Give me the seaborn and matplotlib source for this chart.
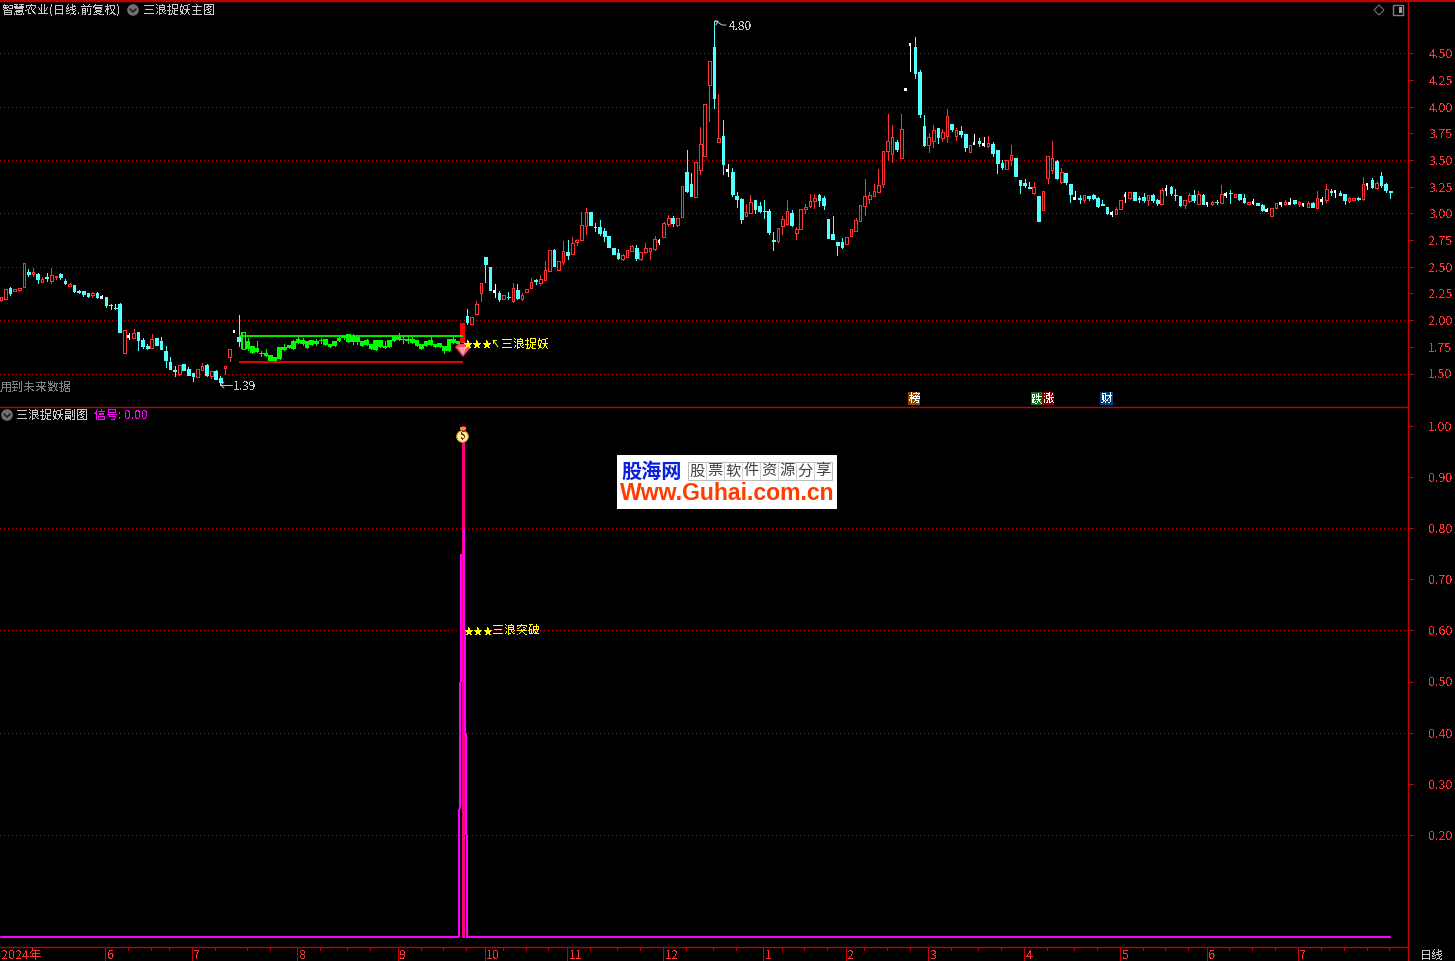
import matplotlib
matplotlib.use('Agg')
import matplotlib.pyplot as plt
from matplotlib.patches import Circle, Polygon, Rectangle
import pandas as pd
import seaborn as sns

W, H = 1455, 961

# daily candles as (open, close, high, low)
candles_fall = [
    (2.19, 2.22, 2.22, 2.18), (2.20, 2.29, 2.29, 2.20), (2.30, 2.255, 2.315, 2.24), (2.27, 2.29, 2.29, 2.27),
    (2.285, 2.30, 2.30, 2.275), (2.31, 2.54, 2.54, 2.31), (2.45, 2.43, 2.475, 2.41), (2.43, 2.45, 2.49, 2.41),
    (2.43, 2.39, 2.44, 2.35), (2.355, 2.39, 2.40, 2.355), (2.40, 2.395, 2.445, 2.365), (2.365, 2.425, 2.485, 2.35),
    (2.40, 2.415, 2.415, 2.385), (2.43, 2.40, 2.44, 2.385), (2.37, 2.345, 2.39, 2.335), (2.32, 2.335, 2.345, 2.32),
    (2.325, 2.27, 2.33, 2.265), (2.27, 2.26, 2.285, 2.25), (2.27, 2.245, 2.275, 2.225), (2.25, 2.225, 2.255, 2.22),
    (2.235, 2.25, 2.26, 2.22), (2.25, 2.215, 2.265, 2.205), (2.215, 2.215, 2.235, 2.21), (2.22, 2.145, 2.22, 2.125),
    (2.145, 2.14, 2.155, 2.105), (2.115, 2.11, 2.15, 2.105), (2.155, 1.89, 2.16, 1.89), (1.695, 1.91, 1.91, 1.695),
    (1.85, 1.85, 1.88, 1.82), (1.835, 1.875, 1.92, 1.835), (1.89, 1.815, 1.89, 1.72), (1.815, 1.755, 1.83, 1.74),
    (1.76, 1.74, 1.775, 1.725), (1.735, 1.825, 1.87, 1.735), (1.835, 1.765, 1.835, 1.765), (1.805, 1.73, 1.84, 1.73),
    (1.71, 1.625, 1.755, 1.56), (1.605, 1.545, 1.655, 1.54), (1.53, 1.52, 1.57, 1.48), (1.495, 1.575, 1.575, 1.485),
    (1.585, 1.535, 1.59, 1.53), (1.54, 1.49, 1.565, 1.49), (1.50, 1.48, 1.50, 1.43), (1.47, 1.54, 1.54, 1.47),
    (1.535, 1.57, 1.595, 1.535), (1.58, 1.485, 1.59, 1.475), (1.475, 1.52, 1.52, 1.455), (1.52, 1.45, 1.53, 1.45),
    (1.455, 1.425, 1.475, 1.39), (1.555, 1.57, 1.57, 1.50), (1.65, 1.725, 1.725, 1.615), (1.895, 1.895, 1.895, 1.895),
    (1.84, 1.805, 2.05, 1.76),
]

# the sideways stretch that the main indicator paints green
candles_box = [
    (1.73, 1.885, 1.885, 1.73), (1.80, 1.725, 1.83, 1.72), (1.76, 1.69, 1.76, 1.69), (1.735, 1.705, 1.80, 1.70),
    (1.695, 1.685, 1.71, 1.665), (1.69, 1.665, 1.73, 1.665), (1.67, 1.615, 1.67, 1.615), (1.65, 1.61, 1.65, 1.61),
    (1.745, 1.64, 1.745, 1.64), (1.75, 1.72, 1.775, 1.72), (1.77, 1.735, 1.77, 1.735), (1.805, 1.73, 1.81, 1.73),
    (1.825, 1.79, 1.845, 1.79), (1.81, 1.78, 1.83, 1.77), (1.805, 1.74, 1.805, 1.74), (1.81, 1.77, 1.81, 1.77),
    (1.80, 1.78, 1.82, 1.765), (1.815, 1.80, 1.83, 1.79), (1.82, 1.765, 1.82, 1.765), (1.78, 1.75, 1.78, 1.75),
    (1.805, 1.76, 1.805, 1.76), (1.83, 1.805, 1.84, 1.80), (1.85, 1.83, 1.85, 1.82), (1.87, 1.795, 1.87, 1.795),
    (1.855, 1.795, 1.87, 1.775), (1.845, 1.795, 1.845, 1.775), (1.80, 1.76, 1.80, 1.76), (1.81, 1.77, 1.82, 1.77),
    (1.775, 1.73, 1.775, 1.73), (1.815, 1.72, 1.815, 1.72), (1.81, 1.75, 1.81, 1.75), (1.76, 1.74, 1.805, 1.74),
    (1.815, 1.75, 1.815, 1.75), (1.85, 1.80, 1.85, 1.80), (1.845, 1.81, 1.875, 1.81), (1.825, 1.815, 1.85, 1.79),
    (1.82, 1.80, 1.84, 1.79), (1.825, 1.785, 1.845, 1.785), (1.815, 1.76, 1.815, 1.76), (1.78, 1.73, 1.78, 1.73),
    (1.80, 1.76, 1.80, 1.76), (1.815, 1.77, 1.85, 1.77), (1.78, 1.75, 1.78, 1.75), (1.79, 1.75, 1.79, 1.75),
    (1.76, 1.71, 1.76, 1.695), (1.825, 1.715, 1.825, 1.715), (1.82, 1.785, 1.84, 1.785), (1.80, 1.775, 1.80, 1.775),
]

candles_rise = [
    (1.795, 1.975, 1.975, 1.795), (2.04, 1.985, 2.105, 1.965), (1.96, 2.03, 2.03, 1.96), (2.055, 2.155, 2.18, 2.055),
    (2.25, 2.35, 2.35, 2.175), (2.59, 2.525, 2.59, 2.355), (2.50, 2.28, 2.50, 2.28), (2.27, 2.27, 2.335, 2.22),
    (2.25, 2.20, 2.275, 2.175), (2.195, 2.24, 2.24, 2.195), (2.22, 2.215, 2.26, 2.20), (2.18, 2.30, 2.35, 2.17),
    (2.285, 2.21, 2.335, 2.20), (2.20, 2.235, 2.25, 2.185), (2.26, 2.29, 2.29, 2.26), (2.30, 2.36, 2.395, 2.30),
    (2.375, 2.37, 2.39, 2.34), (2.345, 2.39, 2.425, 2.325), (2.38, 2.47, 2.55, 2.38), (2.465, 2.655, 2.655, 2.46),
    (2.655, 2.51, 2.665, 2.505), (2.47, 2.55, 2.55, 2.47), (2.545, 2.65, 2.74, 2.53), (2.635, 2.61, 2.75, 2.57),
    (2.62, 2.725, 2.775, 2.62), (2.735, 2.75, 2.76, 2.70), (2.75, 2.895, 3.01, 2.75), (2.885, 3.01, 3.055, 2.805),
    (3.01, 2.89, 3.01, 2.89), (2.875, 2.87, 2.91, 2.835), (2.87, 2.815, 2.94, 2.795), (2.835, 2.785, 2.86, 2.74),
    (2.785, 2.69, 2.785, 2.69), (2.675, 2.62, 2.675, 2.62), (2.625, 2.58, 2.67, 2.57), (2.57, 2.615, 2.62, 2.565),
    (2.595, 2.655, 2.655, 2.595), (2.65, 2.695, 2.70, 2.65), (2.68, 2.58, 2.70, 2.565), (2.57, 2.635, 2.635, 2.565),
    (2.635, 2.675, 2.72, 2.63), (2.65, 2.675, 2.68, 2.57), (2.665, 2.76, 2.79, 2.66), (2.745, 2.745, 2.765, 2.71),
    (2.78, 2.915, 2.92, 2.775), (2.90, 2.955, 2.985, 2.88), (2.955, 2.91, 2.975, 2.885), (2.89, 2.955, 2.96, 2.885),
    (2.97, 3.26, 3.26, 2.97), (3.385, 3.21, 3.595, 3.20), (3.275, 3.165, 3.38, 3.165), (3.15, 3.48, 3.48, 3.15),
    (3.41, 3.655, 3.81, 3.37), (3.54, 4.03, 4.03, 3.54), (4.20, 4.425, 4.43, 3.865), (4.56, 4.08, 4.80, 3.99),
]

candles_chop = [
    (3.67, 3.71, 4.12, 3.67), (3.725, 3.465, 3.875, 3.37), (3.405, 3.405, 3.46, 3.35), (3.385, 3.18, 3.425, 3.16),
    (3.16, 3.135, 3.20, 3.06), (3.14, 2.945, 3.145, 2.91), (2.98, 3.01, 3.09, 2.98), (3.00, 3.105, 3.17, 3.00),
    (3.125, 3.04, 3.13, 3.00), (3.07, 3.02, 3.105, 3.015), (3.025, 3.02, 3.125, 2.96), (3.02, 2.83, 3.04, 2.805),
    (2.755, 2.745, 2.825, 2.655), (2.74, 2.86, 2.86, 2.73), (2.88, 2.945, 2.975, 2.805), (2.90, 3.02, 3.13, 2.89),
    (3.00, 2.89, 3.03, 2.88), (2.82, 2.85, 2.87, 2.76), (2.855, 3.045, 3.045, 2.855), (3.045, 3.06, 3.085, 3.005),
    (3.07, 3.12, 3.18, 3.065), (3.12, 3.145, 3.18, 3.05), (3.17, 3.125, 3.18, 3.07), (3.145, 3.08, 3.165, 3.04),
    (2.945, 2.77, 2.945, 2.77), (2.805, 2.76, 2.975, 2.76), (2.735, 2.70, 2.735, 2.61), (2.73, 2.685, 2.77, 2.68),
    (2.715, 2.775, 2.775, 2.715), (2.79, 2.85, 2.85, 2.79), (2.84, 2.935, 2.96, 2.84), (2.93, 3.075, 3.075, 2.93),
    (3.07, 3.16, 3.32, 2.985), (3.135, 3.17, 3.205, 3.10), (3.165, 3.215, 3.275, 3.165), (3.20, 3.265, 3.42, 3.20),
    (3.28, 3.59, 3.59, 3.25), (3.59, 3.675, 3.93, 3.50), (3.56, 3.72, 3.825, 3.485), (3.67, 3.60, 3.685, 3.59),
    (3.52, 3.79, 3.93, 3.52), (4.17, 4.17, 4.17, 4.17), (4.59, 4.59, 4.59, 4.34), (4.56, 4.315, 4.655, 4.27),
]

candles_slide = [
    (4.325, 3.93, 4.345, 3.90), (3.82, 3.645, 3.92, 3.63), (3.64, 3.72, 3.75, 3.575), (3.68, 3.78, 3.83, 3.62),
    (3.80, 3.715, 3.80, 3.66), (3.71, 3.76, 3.79, 3.68), (3.73, 3.91, 3.98, 3.67), (3.84, 3.79, 3.84, 3.77),
    (3.725, 3.78, 3.805, 3.69), (3.77, 3.745, 3.82, 3.72), (3.745, 3.625, 3.745, 3.59), (3.575, 3.64, 3.64, 3.575),
    (3.66, 3.66, 3.745, 3.65), (3.675, 3.66, 3.705, 3.635), (3.655, 3.655, 3.715, 3.635), (3.635, 3.665, 3.725, 3.625),
    (3.65, 3.565, 3.67, 3.54), (3.595, 3.47, 3.595, 3.38), (3.47, 3.435, 3.50, 3.415), (3.42, 3.505, 3.505, 3.42),
    (3.505, 3.545, 3.64, 3.45), (3.52, 3.35, 3.52, 3.35), (3.31, 3.265, 3.31, 3.19), (3.285, 3.265, 3.32, 3.245),
    (3.245, 3.24, 3.295, 3.235), (3.19, 3.245, 3.295, 3.18), (3.16, 2.93, 3.16, 2.93), (3.035, 3.215, 3.215, 3.035),
    (3.335, 3.54, 3.54, 3.285), (3.41, 3.52, 3.68, 3.38), (3.49, 3.33, 3.50, 3.32), (3.295, 3.385, 3.425, 3.29),
    (3.38, 3.295, 3.38, 3.275), (3.275, 3.18, 3.275, 3.105), (3.145, 3.145, 3.21, 3.135), (3.145, 3.135, 3.17, 3.095),
    (3.125, 3.17, 3.17, 3.105), (3.16, 3.145, 3.165, 3.125), (3.17, 3.145, 3.18, 3.135), (3.145, 3.07, 3.15, 3.06),
    (3.085, 3.08, 3.125, 3.08), (3.06, 3.005, 3.065, 2.995), (3.005, 3.005, 3.02, 2.975), (2.995, 3.04, 3.06, 2.995),
    (3.04, 3.125, 3.125, 3.04), (3.17, 3.17, 3.20, 3.105), (3.145, 3.20, 3.205, 3.14), (3.20, 3.125, 3.20, 3.125),
    (3.145, 3.135, 3.16, 3.105),
]

candles_flat = [
    (3.155, 3.125, 3.19, 3.11), (3.125, 3.17, 3.17, 3.08), (3.17, 3.125, 3.185, 3.11), (3.125, 3.095, 3.135, 3.08),
    (3.09, 3.22, 3.235, 3.09), (3.23, 3.23, 3.27, 3.175), (3.25, 3.195, 3.26, 3.175), (3.175, 3.17, 3.23, 3.13),
    (3.16, 3.08, 3.16, 3.07), (3.08, 3.125, 3.13, 3.055), (3.115, 3.175, 3.195, 3.11), (3.175, 3.125, 3.22, 3.11),
    (3.09, 3.185, 3.21, 3.09), (3.175, 3.09, 3.18, 3.085), (3.10, 3.10, 3.11, 3.07), (3.09, 3.11, 3.115, 3.08),
    (3.11, 3.105, 3.125, 3.09), (3.10, 3.185, 3.27, 3.10), (3.185, 3.185, 3.20, 3.155), (3.195, 3.19, 3.22, 3.10),
    (3.155, 3.185, 3.185, 3.155), (3.18, 3.135, 3.185, 3.13), (3.145, 3.105, 3.185, 3.10), (3.09, 3.11, 3.11, 3.08),
    (3.11, 3.11, 3.135, 3.09), (3.10, 3.08, 3.10, 3.075), (3.08, 3.03, 3.09, 3.02), (3.03, 3.03, 3.05, 3.02),
    (2.975, 3.05, 3.05, 2.975), (3.05, 3.10, 3.10, 3.05), (3.10, 3.10, 3.11, 3.07), (3.09, 3.11, 3.125, 3.08),
    (3.10, 3.10, 3.145, 3.095), (3.125, 3.10, 3.13, 3.09), (3.09, 3.11, 3.12, 3.07), (3.09, 3.09, 3.10, 3.07),
    (3.06, 3.10, 3.115, 3.06), (3.10, 3.06, 3.11, 3.06), (3.05, 3.145, 3.21, 3.05), (3.125, 3.125, 3.155, 3.09),
    (3.125, 3.23, 3.28, 3.11), (3.21, 3.205, 3.23, 3.175), (3.21, 3.21, 3.22, 3.155), (3.195, 3.175, 3.21, 3.175),
    (3.185, 3.125, 3.185, 3.09), (3.115, 3.145, 3.155, 3.105), (3.13, 3.145, 3.145, 3.13), (3.145, 3.135, 3.155, 3.125),
    (3.135, 3.28, 3.345, 3.125), (3.28, 3.28, 3.29, 3.23), (3.315, 3.25, 3.335, 3.24), (3.24, 3.29, 3.30, 3.23),
    (3.355, 3.27, 3.385, 3.25), (3.28, 3.22, 3.29, 3.20), (3.21, 3.20, 3.21, 3.145),
]

box_top = 1.85
box_bottom = 1.605

# signal steps around the breakout day: (day offset, from, to)
signal_left = [(-0.79, 0.0, 0.25), (-0.57, 0.25, 0.50), (-0.35, 0.50, 0.75)]
signal_right = [(0.31, 0.60, 0.80), (0.52, 0.40, 0.60), (0.74, 0.20, 0.40), (0.96, 0.0, 0.20)]
signal_peak = 1.0

price_ticks = [1.50, 1.75, 2.00, 2.25, 2.50, 2.75, 3.00, 3.25, 3.50, 3.75, 4.00, 4.25, 4.50]
price_grid = [1.5, 2.0, 2.5, 3.0, 3.5, 4.0, 4.5]
signal_ticks = [0.20, 0.30, 0.40, 0.50, 0.60, 0.70, 0.80, 0.90, 1.00]
signal_grid = [0.2, 0.4, 0.6, 0.8]

month_days = [0, 23, 42, 65, 87, 106, 124, 145, 167, 185, 203, 224, 245, 264, 284]
month_labels = ['2024年', '6', '7', '8', '9', '10', '11', '12', '1', '2', '3', '4', '5', '6', '7']
week_days = [28, 33, 37, 47, 54, 59, 70, 76, 81, 92, 97, 102, 110, 115, 120, 129, 135, 140, 150, 156, 161,
             171, 176, 181, 189, 194, 199, 208, 214, 219, 229, 235, 240, 250, 255, 260, 269, 274, 279,
             289, 294, 299, 304]

RED = '#ff3232'
CYAN = '#54ffff'
LIME = '#00ff00'
MAGENTA = '#ff00ff'
FRAME = '#c40000'
GRID = '#d00000'
GREY = '#c8c8c8'
YELLOW = '#ffff00'

sns.set_theme(style='dark', rc={'axes.facecolor': 'black', 'figure.facecolor': 'black', 'axes.linewidth': 1.0})
plt.rcParams['font.family'] = ['Noto Sans CJK SC', 'DejaVu Sans']
plt.rcParams['axes.unicode_minus'] = False
plt.rcParams['text.antialiased'] = False

all_rows = candles_fall + candles_box + candles_rise + candles_chop + candles_slide + candles_flat
data = pd.DataFrame(all_rows, columns=['open', 'close', 'high', 'low'])
data['day'] = data.index
BOX_START = len(candles_fall)
BOX_END = BOX_START + len(candles_box)
BREAKOUT = BOX_END

LEFT_DAY = -1 / 4.57
RIGHT_DAY = (1408 - 1) / 4.57
DOTTED = (0, (1, 3))


def px_axes(fig, left, top, right, bottom):
    return fig.add_axes([left / W, 1 - bottom / H, (right - left) / W, (bottom - top) / H])


def style_axes(ax):
    ax.set_xlim(LEFT_DAY, RIGHT_DAY)
    ax.set_xticks([])
    ax.grid(False)
    for side, spine in ax.spines.items():
        spine.set_color(FRAME)
        spine.set_visible(side in ('top', 'right'))


def draw_candles(ax, rows):
    pixel = 0.72
    up = rows[rows['close'] > rows['open']]
    down = rows[rows['close'] < rows['open']]
    flat = rows[rows['close'] == rows['open']]
    is_box = rows['day'].between(BOX_START, BOX_END - 1)

    colors = [LIME if b else (RED if c > o else (CYAN if c < o else 'white'))
              for b, o, c in zip(is_box, rows['open'], rows['close'])]
    ax.vlines(rows['day'], rows['low'], rows['high'], colors=colors, lw=pixel, antialiased=False, zorder=2)

    for part, fill in ((up, 'hollow'), (down, 'solid')):
        in_box = part['day'].between(BOX_START, BOX_END - 1)
        part = part[~in_box]
        edge = RED if fill == 'hollow' else CYAN
        face = 'black' if fill == 'hollow' else CYAN
        bottoms = part[['open', 'close']].min(axis=1)
        heights = (part['close'] - part['open']).abs()
        ax.bar(part['day'], heights, bottom=bottoms, width=0.58, color=face, edgecolor=edge,
               linewidth=pixel, antialiased=False, zorder=3)

    # green bars touch each other inside the box, only its first bar is hollow
    box = rows[is_box]
    lows = box[['open', 'close']].min(axis=1)
    spans = (box['close'] - box['open']).abs()
    ax.bar(box['day'], spans, bottom=lows, width=1.0, color=LIME, linewidth=0, antialiased=False, zorder=3)
    first = box.iloc[[0]]
    ax.bar(first['day'], first['close'] - first['open'], bottom=first['open'], width=0.58, color='black',
           edgecolor=LIME, linewidth=pixel, antialiased=False, zorder=3)

    ax.hlines(flat['close'], flat['day'] - 0.32, flat['day'], colors='white', lw=pixel * 1.4,
              antialiased=False, zorder=3)

    # breakout candle is filled
    spike = rows[rows['day'] == BREAKOUT]
    ax.bar(spike['day'], spike['close'] - spike['open'], bottom=spike['open'], width=1.0, color='#ff0000',
           linewidth=0, antialiased=False, zorder=4)


fig = plt.figure(figsize=(W / 100, H / 100), dpi=100)

# main panel
ax_price = px_axes(fig, 0, 1, 1408, 406)
style_axes(ax_price)
ax_price.set_ylim(1.5 - 32.5 / 106.67, 1.5 + 372.5 / 106.67)
ax_price.hlines(price_grid, LEFT_DAY, RIGHT_DAY, colors=GRID, lw=0.72, linestyles=DOTTED,
                antialiased=False, zorder=1)
draw_candles(ax_price, data)
ax_price.hlines(box_top, BOX_START - 1, BREAKOUT + 0.2, colors=LIME, lw=1.3, zorder=5)
ax_price.hlines(box_bottom, BOX_START - 1, BREAKOUT + 0.2, colors='#ff0000', lw=1.3, zorder=5)
ax_price.yaxis.tick_right()
ax_price.set_yticks(price_ticks, [f'{v:.2f}' for v in price_ticks])
ax_price.tick_params(axis='y', colors=FRAME, labelcolor=RED, length=3.6, width=0.8, pad=11, labelsize=9)

# signal panel
ax_signal = px_axes(fig, 0, 407, 1408, 947)
style_axes(ax_signal)
ax_signal.set_ylim(-10 / 511, 530 / 511)
ax_signal.hlines(signal_grid, LEFT_DAY, RIGHT_DAY, colors=GRID, lw=0.72, linestyles=DOTTED,
                 antialiased=False, zorder=1)
signal = data[['day']].copy()
signal['value'] = 0.0
sns.lineplot(data=signal[signal['day'] < BREAKOUT - 0.8], x='day', y='value', color=MAGENTA, lw=1.5,
             ax=ax_signal, legend=False, zorder=3)
sns.lineplot(data=signal[signal['day'] > BREAKOUT], x='day', y='value', color=MAGENTA, lw=1.5,
             ax=ax_signal, legend=False, zorder=3)
for off, low, top in signal_left + signal_right:
    ax_signal.vlines(BREAKOUT + off, low, top, colors=MAGENTA, lw=1.44, antialiased=False, zorder=3)
ax_signal.vlines(BREAKOUT, 0, signal_peak, colors='#ff0080', lw=2.16, antialiased=False, zorder=2)
ax_signal.set_xlabel('')
ax_signal.set_ylabel('')
ax_signal.set_xticks([])
ax_signal.yaxis.tick_right()
ax_signal.set_yticks(signal_ticks, [f'{v:.2f}' for v in signal_ticks])
ax_signal.tick_params(axis='y', colors=FRAME, labelcolor=RED, length=3.6, width=0.8, pad=11, labelsize=9)

# date strip
ax_date = px_axes(fig, 0, 947, 1408, 961)
style_axes(ax_date)
ax_date.set_ylim(1, 0)
ax_date.set_yticks([])
ax_date.vlines([d - 0.2 for d in month_days[1:]], 0, 1, colors=FRAME, lw=0.72, antialiased=False)
ax_date.vlines([d - 0.2 for d in week_days], 0, 0.2, colors=FRAME, lw=0.72, antialiased=False)
for day, label in zip(month_days, month_labels):
    ax_date.text(day + 0.2, 0.6, label, color=RED, fontsize=9, ha='left', va='center')

# overlay in pixel coordinates for the terminal's captions and icons
ov = fig.add_axes([0, 0, 1, 1], facecolor='none', zorder=10)
ov.set_xlim(0, W)
ov.set_ylim(H, 0)
ov.axis('off')
ov.add_patch(Rectangle((0, 0), W, 1.5, color=FRAME, lw=0))


def cap(x, y, s, color=GREY, size=8.64, **kw):
    ov.text(x, y + 1, s, color=color, fontsize=size, ha=kw.pop('ha', 'left'), va='center', **kw)


def badge(x, y):
    ov.add_patch(Circle((x, y), 5.8, color='#707070', lw=0))
    ov.plot([x - 3, x, x + 3], [y - 1, y + 2, y - 1], color='#1a1a1a', lw=1.1)


cap(2, 9.5, '智慧农业(日线.前复权)')
badge(133, 10)
cap(143, 9.5, '三浪捉妖主图')
cap(16, 414.5, '三浪捉妖副图')
badge(7, 415)
cap(94, 414.5, '信号: 0.00', color=MAGENTA)
cap(0, 386, '用到未来数据', color='#808080')
cap(233, 386, '1.39')
ov.plot([221, 232], [385, 385], color=GREY, lw=0.7)
ov.plot([224, 220.5, 224], [382, 385, 388], color=GREY, lw=0.7)
cap(729, 26, '4.80')
ov.plot([715, 719, 722, 726], [21, 23, 25, 25], color=GREY, lw=0.7)
ov.plot([715, 718, 716], [21, 21, 25], color=GREY, lw=0.7)
cap(1420, 954, '日线')

cap(463, 343.5, '★★★', color=YELLOW, size=7.2)
ov.plot([493, 498], [340, 347], color=YELLOW, lw=0.7)
ov.plot([493, 493, 496], [343, 340, 340], color=YELLOW, lw=0.7)
cap(501, 343.5, '三浪捉妖', color=YELLOW)
cap(464, 630, '★★★', color=YELLOW, size=7.2)
cap(492, 630, '三浪突破', color=YELLOW)

# gem and money bag
ov.add_patch(Polygon([(455, 347), (458, 344), (467, 344), (471, 347), (463, 357)], color='#ff4060', lw=0))
ov.add_patch(Polygon([(458, 347), (467, 347), (463, 355)], color='#ffa0b0', lw=0))
ov.add_patch(Circle((462.5, 436.5), 5.8, color='#ffe9a0', ec='#d8a000', lw=0.7))
ov.add_patch(Rectangle((459.5, 427), 6, 3, color='#d8a000', lw=0))
cap(462.5, 435.5, '$', color='#803030', size=7, ha='center', fontweight='bold')

# window icons, top right
ov.add_patch(Polygon([(1379, 5), (1384, 10), (1379, 15), (1374, 10)], fill=False, ec='#707070', lw=0.8))
ov.add_patch(Rectangle((1393, 5), 10, 10, fill=False, ec='#808080', lw=1))
ov.add_patch(Rectangle((1399, 7), 3, 6, color='#a0a0a0', lw=0))

# news tags under the price panel
for x0, x1, bg, tag in [(908, 920, '#8b4a00', '榜'), (1031, 1042, '#007a10', '跌'),
                        (1042, 1054, '#800000', '涨'), (1100, 1113, '#004080', '财')]:
    ov.add_patch(Rectangle((x0, 392), x1 - x0, 13, color=bg, lw=0))
    cap((x0 + x1) / 2, 397.5, tag, color='white', ha='center', size=8.2)

# site watermark
ov.add_patch(Rectangle((617, 455), 220, 54, color='white', lw=0))
ov.text(621, 471, '股海网', color='#0a1ee0', fontsize=14.5, fontweight='bold', va='center', antialiased=True)
ov.add_patch(Rectangle((688, 462), 144, 18, fill=False, ec='#b0b0b0', lw=0.6))
for k, ch in enumerate('股票软件资源分享'):
    if k:
        ov.plot([688 + 18 * k] * 2, [462, 480], color='#c0c0c0', lw=0.5)
    ov.text(697 + 18 * k, 471, ch, color='#404040', fontsize=11, ha='center', va='center', antialiased=True)
ov.text(620, 493, 'Www.Guhai.com.cn', color='#ff3c00', fontsize=16.6, family='Liberation Sans',
        fontweight='bold', ha='left', va='center', antialiased=True)

fig.savefig('out.png', dpi=100, facecolor='black')
